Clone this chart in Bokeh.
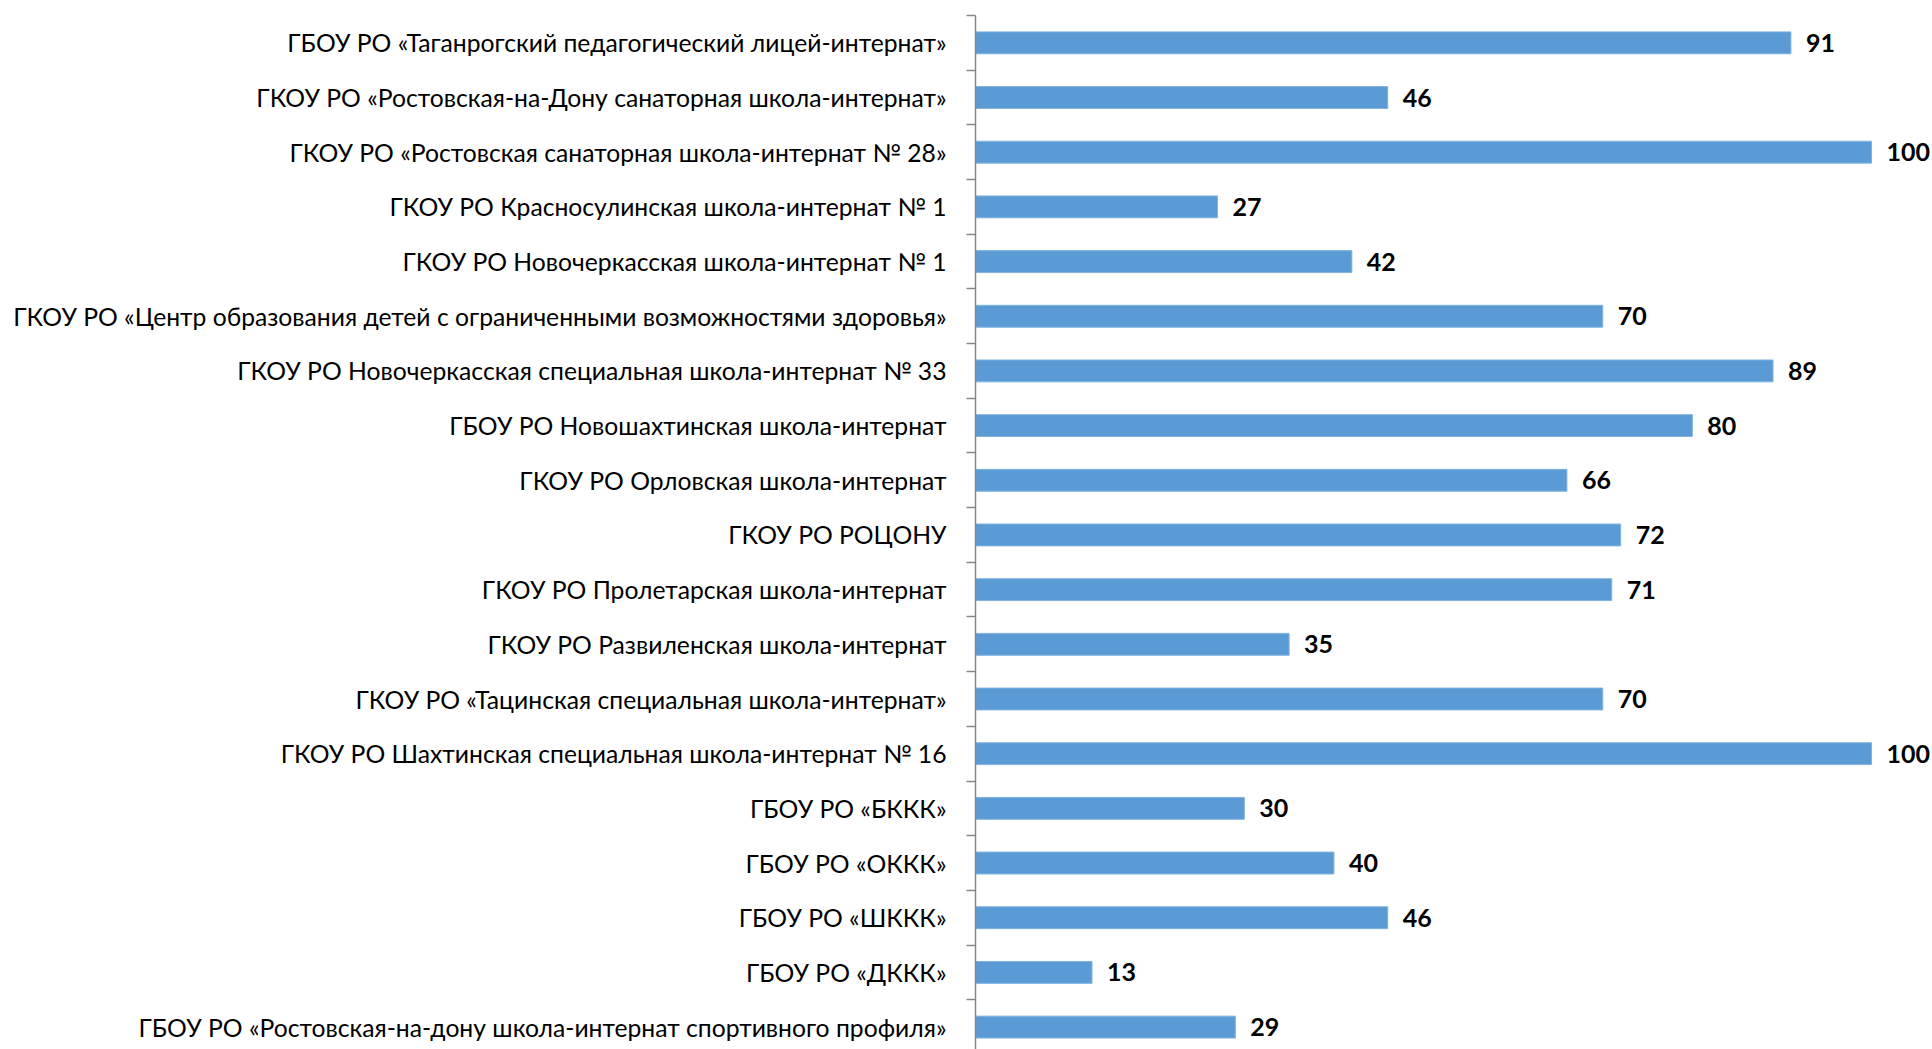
from bokeh.plotting import figure
from bokeh.models import ColumnDataSource, Range1d, FixedTicker
from bokeh.embed import file_html
from bokeh.resources import INLINE
from bokeh.core.properties import value

categories = [
    "ГБОУ РО «Таганрогский педагогический лицей-интернат»",
    "ГКОУ РО «Ростовская-на-Дону санаторная школа-интернат»",
    "ГКОУ РО «Ростовская санаторная школа-интернат № 28»",
    "ГКОУ РО Красносулинская школа-интернат № 1",
    "ГКОУ РО Новочеркасская школа-интернат № 1",
    "ГКОУ РО «Центр образования детей с ограниченными возможностями здоровья»",
    "ГКОУ РО Новочеркасская специальная школа-интернат № 33",
    "ГБОУ РО Новошахтинская школа-интернат",
    "ГКОУ РО Орловская школа-интернат",
    "ГКОУ РО РОЦОНУ",
    "ГКОУ РО Пролетарская школа-интернат",
    "ГКОУ РО Развиленская школа-интернат",
    "ГКОУ РО «Тацинская специальная школа-интернат»",
    "ГКОУ РО Шахтинская специальная школа-интернат № 16",
    "ГБОУ РО «БККК»",
    "ГБОУ РО «ОККК»",
    "ГБОУ РО «ШККК»",
    "ГБОУ РО «ДККК»",
    "ГБОУ РО «Ростовская-на-дону школа-интернат спортивного профиля»",
]
values = [91, 46, 100, 27, 42, 70, 89, 80, 66, 72, 71, 35, 70, 100, 30, 40, 46, 13, 29]

n = len(categories)
pos = list(range(n))

src = ColumnDataSource(dict(
    y=pos,
    v=values,
    lbl=[str(v) for v in values],
))

p = figure(
    width=1932, height=1049,
    output_backend="svg", toolbar_location=None,
    x_range=Range1d(0, 106.8),
    y_range=Range1d(18.41, -0.5),
    x_axis_location=None,
    min_border_left=975, min_border_right=0,
    min_border_top=15, min_border_bottom=0,
)
p.outline_line_color = None
p.xgrid.visible = False
p.ygrid.visible = False
p.background_fill_color = "white"
p.border_fill_color = "white"

p.hbar(y="y", right="v", left=0, height=0.4, source=src,
       fill_color="#5B9BD5", line_color="#7FB2E0", line_width=1)

p.text(x="v", y="y", text="lbl", source=src,
       x_offset=15, text_baseline="middle", text_align="left",
       text_font=value("Lato"), text_font_style="bold",
       text_font_size="25px", text_color="#000000")

ax = p.yaxis[0]
ax.ticker = FixedTicker(ticks=pos, minor_ticks=[i - 0.5 for i in range(n + 1)])
ax.major_label_overrides = {i: c for i, c in zip(pos, categories)}
ax.major_tick_out = 0
ax.major_tick_in = 0
ax.minor_tick_out = 9
ax.minor_tick_in = 0
ax.minor_tick_line_color = "#868686"
ax.axis_line_color = "#868686"
ax.axis_line_width = 1.5
ax.minor_tick_line_width = 1.5
ax.major_label_standoff = 20
ax.major_label_text_font = "Lato"
ax.major_label_text_font_size = "24.7px"
ax.major_label_text_color = "#000000"

open("out.html", "w").write(file_html(p, INLINE))
